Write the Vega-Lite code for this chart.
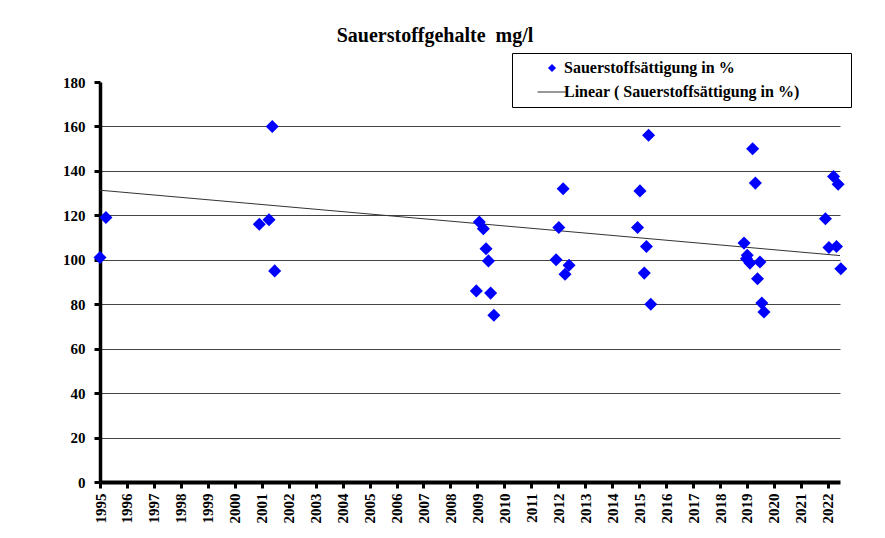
{
  "$schema": "https://vega.github.io/schema/vega-lite/v6.json",
  "autosize": "none",
  "width": 740,
  "height": 400,
  "padding": {"left": 100, "top": 82, "right": 45, "bottom": 56},
  "background": "white",
  "title": {
    "text": "Sauerstoffgehalte\u00a0 mg/l",
    "font": "Liberation Serif",
    "fontSize": 20,
    "fontWeight": "bold",
    "color": "black",
    "anchor": "middle",
    "frame": "group",
    "dx": -35,
    "offset": 7
  },
  "config": {
    "view": {"stroke": null},
    "axis": {
      "labelFont": "Liberation Serif",
      "labelFontWeight": "bold",
      "labelColor": "black",
      "domainColor": "black",
      "tickColor": "black",
      "title": null
    }
  },
  "encoding": {
    "x": {
      "field": "jahr",
      "type": "quantitative",
      "scale": {"domain": [1995, 2022.45], "nice": false, "zero": false},
      "axis": {
        "values": [1995,1996,1997,1998,1999,2000,2001,2002,2003,2004,2005,2006,2007,2008,2009,2010,2011,2012,2013,2014,2015,2016,2017,2018,2019,2020,2021,2022],
        "format": "d",
        "labelAngle": -90,
        "labelAlign": "right",
        "labelBaseline": "middle",
        "labelFontSize": 15,
        "labelPadding": 5,
        "labelOverlap": false,
        "labelFlush": false,
        "grid": false,
        "domainWidth": 4,
        "tickWidth": 3,
        "tickSize": 6
      }
    },
    "y": {
      "field": "wert",
      "type": "quantitative",
      "scale": {"domain": [0, 180], "nice": false},
      "axis": {
        "values": [0,20,40,60,80,100,120,140,160,180],
        "labelFontSize": 15,
        "labelPadding": 9,
        "grid": true,
        "gridColor": "#444444",
        "gridWidth": 1,
        "gridOpacity": {"condition": {"test": "datum.value === 180 || datum.value === 0", "value": 0}, "value": 1},
        "domainWidth": 3.5,
        "tickWidth": 3,
        "tickSize": 6
      }
    },
    "color": {
      "field": "reihe",
      "type": "nominal",
      "scale": {
        "domain": ["Sauerstoffsättigung in %", "Linear ( Sauerstoffsättigung in %)"],
        "range": ["#0000FF", "#333333"]
      },
      "legend": {
        "orient": "none",
        "legendX": 412,
        "legendY": -29,
        "title": "\u00a0",
        "titleOrient": "right",
        "titlePadding": 44,
        "titleFontSize": 4,
        "strokeColor": "black",
        "padding": 7,
        "symbolOffset": 25,
        "labelOffset": 4,
        "rowPadding": 8,
        "labelFont": "Liberation Serif",
        "labelFontWeight": "bold",
        "labelFontSize": 16,
        "labelColor": "black",
        "labelLimit": 400,
        "encode": {
          "symbols": {
            "update": {
              "shape": {"signal": "datum.value === 'Linear ( Sauerstoffsättigung in %)' ? 'stroke' : 'diamond'"},
              "size": {"signal": "datum.value === 'Linear ( Sauerstoffsättigung in %)' ? 841 : 49"},
              "fill": {"signal": "datum.value === 'Linear ( Sauerstoffsättigung in %)' ? 'transparent' : '#0000FF'"},
              "stroke": {"signal": "datum.value === 'Linear ( Sauerstoffsättigung in %)' ? 'black' : '#0000FF'"},
              "strokeWidth": {"value": 1},
              "opacity": {"value": 1}
            }
          }
        }
      }
    }
  },
  "layer": [
    {
      "data": {
        "values": [
          {"jahr": 1995.0, "wert": 131.3, "reihe": "Linear ( Sauerstoffsättigung in %)"},
          {"jahr": 2022.45, "wert": 101.9, "reihe": "Linear ( Sauerstoffsättigung in %)"}
        ]
      },
      "mark": {"type": "line", "strokeWidth": 1}
    },
    {
      "data": {
        "values": [
          {"jahr": 1995.0, "wert": 101, "reihe": "Sauerstoffsättigung in %"},
          {"jahr": 1995.22, "wert": 119, "reihe": "Sauerstoffsättigung in %"},
          {"jahr": 2000.91, "wert": 116, "reihe": "Sauerstoffsättigung in %"},
          {"jahr": 2001.27, "wert": 118, "reihe": "Sauerstoffsättigung in %"},
          {"jahr": 2001.39, "wert": 160, "reihe": "Sauerstoffsättigung in %"},
          {"jahr": 2001.48, "wert": 95, "reihe": "Sauerstoffsättigung in %"},
          {"jahr": 2008.96, "wert": 86, "reihe": "Sauerstoffsättigung in %"},
          {"jahr": 2009.07, "wert": 117, "reihe": "Sauerstoffsättigung in %"},
          {"jahr": 2009.22, "wert": 114, "reihe": "Sauerstoffsättigung in %"},
          {"jahr": 2009.32, "wert": 105, "reihe": "Sauerstoffsättigung in %"},
          {"jahr": 2009.41, "wert": 99.5, "reihe": "Sauerstoffsättigung in %"},
          {"jahr": 2009.49, "wert": 85, "reihe": "Sauerstoffsättigung in %"},
          {"jahr": 2009.61, "wert": 75, "reihe": "Sauerstoffsättigung in %"},
          {"jahr": 2011.92, "wert": 100, "reihe": "Sauerstoffsättigung in %"},
          {"jahr": 2012.02, "wert": 114.5, "reihe": "Sauerstoffsättigung in %"},
          {"jahr": 2012.18, "wert": 132, "reihe": "Sauerstoffsättigung in %"},
          {"jahr": 2012.25, "wert": 93.5, "reihe": "Sauerstoffsättigung in %"},
          {"jahr": 2012.4, "wert": 97.5, "reihe": "Sauerstoffsättigung in %"},
          {"jahr": 2014.94, "wert": 114.5, "reihe": "Sauerstoffsättigung in %"},
          {"jahr": 2015.03, "wert": 131, "reihe": "Sauerstoffsättigung in %"},
          {"jahr": 2015.19, "wert": 94, "reihe": "Sauerstoffsättigung in %"},
          {"jahr": 2015.27, "wert": 106, "reihe": "Sauerstoffsättigung in %"},
          {"jahr": 2015.35, "wert": 156, "reihe": "Sauerstoffsättigung in %"},
          {"jahr": 2015.43, "wert": 80, "reihe": "Sauerstoffsättigung in %"},
          {"jahr": 2018.89, "wert": 107.5, "reihe": "Sauerstoffsättigung in %"},
          {"jahr": 2018.98, "wert": 100.5, "reihe": "Sauerstoffsättigung in %"},
          {"jahr": 2019.01, "wert": 102, "reihe": "Sauerstoffsättigung in %"},
          {"jahr": 2019.11, "wert": 98.5, "reihe": "Sauerstoffsättigung in %"},
          {"jahr": 2019.21, "wert": 150, "reihe": "Sauerstoffsättigung in %"},
          {"jahr": 2019.31, "wert": 134.5, "reihe": "Sauerstoffsättigung in %"},
          {"jahr": 2019.39, "wert": 91.5, "reihe": "Sauerstoffsättigung in %"},
          {"jahr": 2019.48, "wert": 99, "reihe": "Sauerstoffsättigung in %"},
          {"jahr": 2019.55, "wert": 80.5, "reihe": "Sauerstoffsättigung in %"},
          {"jahr": 2019.63, "wert": 76.5, "reihe": "Sauerstoffsättigung in %"},
          {"jahr": 2021.91, "wert": 118.5, "reihe": "Sauerstoffsättigung in %"},
          {"jahr": 2022.04, "wert": 105.5, "reihe": "Sauerstoffsättigung in %"},
          {"jahr": 2022.21, "wert": 137.5, "reihe": "Sauerstoffsättigung in %"},
          {"jahr": 2022.32, "wert": 106, "reihe": "Sauerstoffsättigung in %"},
          {"jahr": 2022.38, "wert": 134, "reihe": "Sauerstoffsättigung in %"},
          {"jahr": 2022.48, "wert": 96, "reihe": "Sauerstoffsättigung in %"}
        ]
      },
      "mark": {"type": "point", "shape": "diamond", "filled": true, "size": 170, "opacity": 1}
    }
  ]
}
